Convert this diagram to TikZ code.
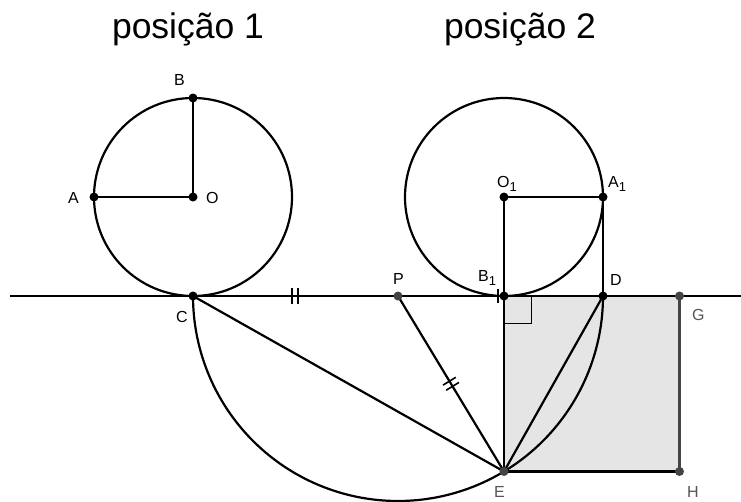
\documentclass[tikz,border=0pt]{standalone}
\usepackage{fontspec}
\setmainfont{Liberation Sans}
\usetikzlibrary{calc}
\definecolor{sqfill}{HTML}{E5E5E5}
\definecolor{ptgray}{HTML}{444444}
\definecolor{lblgray}{HTML}{555555}
\newcommand{\subone}{\raisebox{-4pt}{\fontsize{13}{13}\selectfont 1}}
\begin{document}
\begin{tikzpicture}[x=1pt,y=-1pt,line width=2.2pt,line cap=butt,
  bpt/.style={circle,fill=black,inner sep=0pt,minimum size=9pt},
  gpt/.style={circle,fill=ptgray,inner sep=0pt,minimum size=9pt},
  lbl/.style={font=\fontsize{16}{16}\selectfont,anchor=base west,inner sep=0pt},
  glbl/.style={lbl,text=lblgray},
  ttl/.style={font=\fontsize{35.5}{35.5}\selectfont,anchor=base,inner sep=0pt},
  tick/.style={line width=1.6pt},
  thinline/.style={line width=1pt}]
\useasboundingbox (0,0) rectangle (741,501);
% coordinates
\coordinate (O) at (193,197);
\coordinate (A) at (94,197);
\coordinate (B) at (193,98);
\coordinate (C) at (193,296);
\coordinate (O1) at (504,197);
\coordinate (A1) at (603,197);
\coordinate (B1) at (504,296);
\coordinate (D) at (603,296);
\coordinate (P) at (398,296);
\coordinate (E) at (504,471.5);
\coordinate (G) at (679.5,296);
\coordinate (H) at (679.5,471.5);
\coordinate (L) at (10,296);
\coordinate (R) at (741,296);
\coordinate (T1) at (449.4,381.2);
\coordinate (T2) at (452.6,386.3);
% square fill
\fill[sqfill] (B1) rectangle (H);
% right angle mark
\draw[thinline] (531,296) -- (531,323) -- (504,323);
% circles
\draw (O) circle[radius=99pt];
\draw (O1) circle[radius=99pt];
% semicircle
\draw plot[domain=0:180,samples=160,smooth] ({398+205*cos(\x)},{296+205*sin(\x)});
% base line
\draw (L) -- (R);
% radii
\draw (O) -- (A);
\draw (O) -- (B);
\draw (O1) -- (A1);
\draw (O1) -- (B1);
\draw (A1) -- (D);
% lines to E
\draw (C) -- (E);
\draw (P) -- (E);
\draw (D) -- (E);
% square edges
\draw[line width=2.6pt] (B1) -- (E) -- (H);
\draw[line width=2.4pt,draw=ptgray] (H) -- (G);
% ticks
\draw[tick] (292,288) -- (292,304);
\draw[tick] (298,288) -- (298,304);
\draw[tick] (498,289) -- (498,303);
\draw[tick] ($(T1)+(-6.4,3.9)$) -- ($(T1)+(6.4,-3.9)$);
\draw[tick] ($(T2)+(-6.4,3.9)$) -- ($(T2)+(6.4,-3.9)$);
% points
\node[bpt] (pO) at (O) {};
\node[bpt] (pA) at (A) {};
\node[bpt] (pB) at (B) {};
\node[bpt] (pC) at (C) {};
\node[bpt] (pO1) at (O1) {};
\node[bpt] (pA1) at (A1) {};
\node[bpt] (pB1) at (B1) {};
\node[bpt] (pD) at (D) {};
\node[gpt] (pP) at (P) {};
\node[gpt] (pE) at (E) {};
\node[gpt] (pG) at (G) {};
\node[gpt] (pH) at (H) {};
% labels
\node[lbl] (lB) at (173,85) {B};
\node[lbl] (lA) at (67,203) {A};
\node[lbl] (lO) at (205,203) {O};
\node[lbl] (lC) at (175,322) {C};
\node[lbl] (lO1) at (496,187) {O\subone};
\node[lbl] (lA1) at (607,187) {A\subone};
\node[lbl] (lB1) at (477,281) {B\subone};
\node[lbl] (lD) at (609,285) {D};
\node[lbl] (lP) at (392,284) {P};
\node[glbl] (lG) at (691,320) {G};
\node[glbl] (lE) at (493,497) {E};
\node[glbl] (lH) at (686,497) {H};
% titles
\node[ttl] (t1) at (188,38) {posição 1};
\node[ttl] (t2) at (520,38) {posição 2};
\end{tikzpicture}
\end{document}
